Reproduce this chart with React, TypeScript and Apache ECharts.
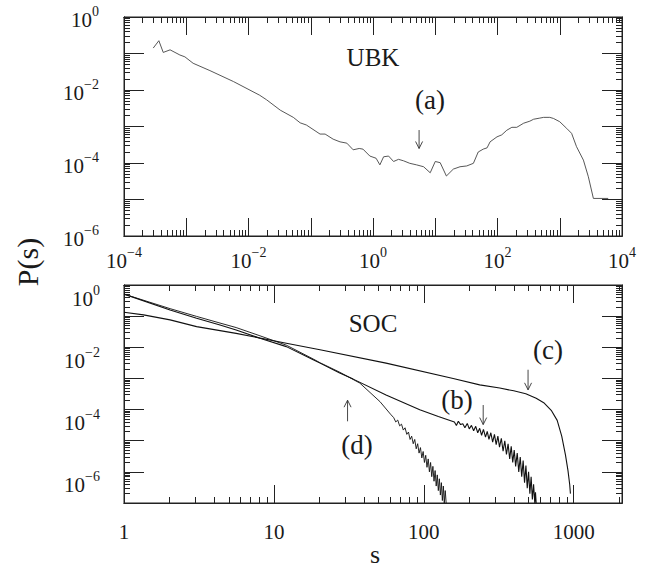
import React, { useEffect, useRef } from "react";
import * as echarts from "echarts";

// ---------- Panel (a): UBK ----------
const ubkS = [2.95e-4, 3.63e-4, 4.27e-4, 5.5e-4, 7.9e-4, 9.5e-4, 1.29e-3, 2.4e-3, 5.75e-3, 0.0151, 0.0195, 0.0324, 0.0525, 0.0676, 0.085, 0.141, 0.17, 0.229, 0.295, 0.38, 0.48, 0.6, 0.69, 0.89, 1.12, 1.29, 1.48, 1.78, 2.14, 2.57, 3.09, 3.9, 5.0, 6.5, 8.3, 10.0, 12.0, 15.1, 19.5, 25, 32, 41, 49, 59, 68, 76, 98, 117, 141, 170, 204, 263, 331, 380, 479, 550, 692, 794, 1000, 1290, 1550, 1860, 2400, 2880, 3470, 6000];
const ubkP = [0.141, 0.224, 0.107, 0.126, 0.091, 0.081, 0.054, 0.034, 0.017, 7.2e-3, 5.4e-3, 2.8e-3, 1.78e-3, 1.26e-3, 1.1e-3, 6.2e-4, 6.2e-4, 4.5e-4, 3.8e-4, 3.5e-4, 2.3e-4, 2.5e-4, 2.4e-4, 1.55e-4, 1.35e-4, 8.9e-5, 1.48e-4, 1.55e-4, 1.1e-4, 1.26e-4, 1.15e-4, 9.8e-5, 8.9e-5, 7.9e-5, 5.4e-5, 1.1e-4, 1.02e-4, 4.4e-5, 6.8e-5, 7.9e-5, 8.3e-5, 9.8e-5, 2.0e-4, 2.4e-4, 2.6e-4, 3.8e-4, 5.2e-4, 5.9e-4, 7.9e-4, 9.5e-4, 9.5e-4, 1.23e-3, 1.4e-3, 1.58e-3, 1.7e-3, 1.78e-3, 1.78e-3, 1.66e-3, 1.35e-3, 8.9e-4, 6.5e-4, 2.8e-4, 1.2e-4, 4.2e-5, 1.07e-5, 1.07e-5];

// ---------- Panel SOC: curve (c) ----------
const socCS = [1, 1.35, 2.03, 3.05, 5.6, 12.1, 20.3, 56, 157, 236, 321, 398, 479, 562, 631, 708, 776, 832, 881, 916, 940, 951];
const socCP = [0.133, 0.11, 0.076, 0.046, 0.028, 0.0135, 8.3e-3, 3.1e-3, 1.0e-3, 6.2e-4, 4.9e-4, 4.0e-4, 3.2e-4, 2.3e-4, 1.66e-4, 9.5e-5, 4.5e-5, 1.4e-5, 3.5e-6, 1.1e-6, 4.0e-7, 2.0e-7];

// ---------- curve (b) ----------
const socBS = [1, 2.03, 3.05, 4.37, 5.6, 8.07, 12.1, 18.3, 20.3, 27.5, 33.8, 56, 94, 125, 160, 165, 170, 176, 182, 188, 195, 201, 208, 215, 222, 229, 236, 243, 250, 258, 265, 272, 280, 288, 296, 304, 312, 320, 329, 338, 347, 356, 365, 374, 383, 392, 401, 410, 420, 430, 440, 450, 460, 470, 480, 490, 500, 510, 520, 530, 540, 550, 556, 562];
const socBP = [0.51, 0.158, 0.085, 0.052, 0.036, 0.0195, 0.0105, 4.0e-3, 3.1e-3, 1.5e-3, 9.5e-4, 2.95e-4, 9.8e-5, 6.0e-5, 4.0e-5, 3.1e-5, 4.2e-5, 3.3e-5, 3.5e-5, 2.6e-5, 3.6e-5, 2.4e-5, 3.1e-5, 2.1e-5, 2.9e-5, 1.8e-5, 2.5e-5, 1.5e-5, 2.3e-5, 1.3e-5, 2.0e-5, 1.1e-5, 1.8e-5, 9.0e-6, 1.6e-5, 7.5e-6, 1.4e-5, 6.2e-6, 1.2e-5, 4.6e-6, 1.0e-5, 3.6e-6, 8.0e-6, 2.6e-6, 6.6e-6, 2.0e-6, 5.0e-6, 1.5e-6, 4.0e-6, 1.0e-6, 3.0e-6, 7.0e-7, 2.3e-6, 4.5e-7, 1.6e-6, 3.0e-7, 1.0e-6, 2.0e-7, 7.0e-7, 1.3e-7, 4.0e-7, 1.0e-7, 2.2e-7, 1.0e-7];

// ---------- curve (d) ----------
const socDS = [1, 2.03, 3.05, 4.37, 5.6, 8.07, 12.1, 18.3, 20.3, 27.5, 37.4, 51, 60, 63, 65, 67, 69, 71, 73, 75, 77, 79, 81, 83, 85, 87, 89, 91, 93, 95, 97, 99, 101, 103, 105, 107, 109, 111, 113, 115, 117, 119, 121, 123, 125, 127, 129, 131, 133, 135, 137, 139, 141];
const socDP = [0.51, 0.174, 0.098, 0.06, 0.043, 0.0234, 0.0117, 4.2e-3, 3.2e-3, 1.58e-3, 7.1e-4, 1.8e-4, 7.1e-5, 5.5e-5, 4.0e-5, 4.6e-5, 3.0e-5, 3.4e-5, 2.2e-5, 2.6e-5, 1.6e-5, 1.9e-5, 1.1e-5, 1.4e-5, 8.0e-6, 1.1e-5, 5.5e-6, 8.0e-6, 4.0e-6, 6.0e-6, 2.8e-6, 4.5e-6, 2.0e-6, 3.4e-6, 1.4e-6, 2.6e-6, 1.0e-6, 2.0e-6, 7.0e-7, 1.5e-6, 5.0e-7, 1.1e-6, 3.5e-7, 8.0e-7, 2.5e-7, 6.0e-7, 1.8e-7, 4.5e-7, 1.2e-7, 3.5e-7, 1.0e-7, 2.5e-7, 1.0e-7];

// ---------- arrows: [x, tail y, tip y] ----------
const ubkArrows = [[5.5, 8.0e-4, 2.5e-4]];
const socArrows = [
  [31, 4.2e-5, 2.0e-4],
  [249, 1.4e-4, 3.3e-5],
  [496, 1.9e-3, 4.3e-4],
];

// ---------- tick labels ----------
const ubkXLabelExps = [-4, -2, 0, 2, 4];
const ubkYLabelExps = [0, -2, -4, -6];
const socXLabels = [1, 10, 100, 1000];
const socYLabelExps = [0, -2, -4, -6];

// axis ranges
const ubkXRange = [1e-4, 1e4];
const ubkYRange = [1e-6, 1];
const socXRange = [1, 2100];
const socYRange = [1e-7, 1];

const FONT = "Liberation Serif";

const zip = (a: number[], b: number[]) => a.map((v, i) => [v, b[i]]);

const sup = (e: number) => `{b|10}{s|${e < 0 ? "\u2212" + -e : String(e)}}`;
const expFormatter = (allowed: number[]) => (v: number) => {
  const e = Math.log10(v);
  const r = Math.round(e);
  if (Math.abs(e - r) > 1e-6 || !allowed.includes(r)) return "";
  return sup(r);
};
const plainFormatter = (allowed: number[]) => (v: number) => {
  const hit = allowed.find((a) => Math.abs(Math.log10(v) - Math.log10(a)) < 1e-6);
  return hit === undefined ? "" : `{b|${hit}}`;
};

const rich = {
  b: { fontFamily: FONT, fontSize: 21, color: "#1a1a1a", lineHeight: 26, verticalAlign: "bottom" },
  s: { fontFamily: FONT, fontSize: 14, color: "#1a1a1a", lineHeight: 14, verticalAlign: "top" },
};

// decade (major) and 2..9 (minor) positions inside a range
function logTicks(range: number[], major: boolean) {
  const out: number[] = [];
  const loExp = Math.round(Math.log10(range[0]));
  for (let d = loExp; Math.pow(10, d) <= range[1] * 1.0001; d++) {
    for (let k = major ? 1 : 2; k <= (major ? 1 : 9); k++) {
      const v = k * Math.pow(10, d);
      if (v <= range[1] * 1.0001) out.push(v);
    }
  }
  return out;
}

// 4 log axes per direction and grid: majors + minors on both sides
function axisSet(dir: "x" | "y", gi: number, range: number[], majLen: number, label: any) {
  const sides = dir === "x" ? ["bottom", "top"] : ["left", "right"];
  const out: any[] = [];
  for (const side of sides) {
    for (const major of [true, false]) {
      const isLabelled = side === sides[0] && major;
      out.push({
        type: "log",
        gridIndex: gi,
        position: side,
        min: range[0],
        max: range[1],
        axisLine: { show: true, onZero: false, lineStyle: { color: "#222", width: 1 } },
        splitLine: { show: false },
        axisTick: {
          show: true,
          inside: true,
          length: major ? majLen : 6,
          customValues: logTicks(range, major),
          lineStyle: { color: "#222", width: 1 },
        },
        axisLabel: isLabelled ? label : { show: false },
      });
    }
  }
  return out;
}

function arrowSeries(xi: number, yi: number, arrows: number[][]) {
  return {
    type: "custom",
    xAxisIndex: xi,
    yAxisIndex: yi,
    silent: true,
    z: 6,
    data: arrows.map((a) => [a[0], a[1], a[2]]),
    encode: { x: 0, y: 1 },
    renderItem: (_params: any, api: any) => {
      const x = api.value(0);
      const p1 = api.coord([x, api.value(1)]);
      const p2 = api.coord([x, api.value(2)]);
      const d = p2[1] > p1[1] ? 1 : -1;
      return {
        type: "group",
        children: [
          { type: "line", shape: { x1: p1[0], y1: p1[1], x2: p2[0], y2: p2[1] }, style: { stroke: "#333", lineWidth: 0.9 } },
          {
            type: "polyline",
            shape: { points: [[p2[0] - 3.5, p2[1] - d * 7], [p2[0], p2[1]], [p2[0] + 3.5, p2[1] - d * 7]] },
            style: { stroke: "#333", lineWidth: 0.9, fill: "none" },
          },
        ],
      };
    },
  };
}

const lineSeries = (xi: number, yi: number, data: number[][], width: number, color: string) => ({
  type: "line",
  xAxisIndex: xi,
  yAxisIndex: yi,
  data,
  showSymbol: false,
  symbol: "none",
  silent: true,
  lineStyle: { width, color },
  z: 3,
});

export default function App() {
  const ref = useRef<HTMLDivElement>(null);
  useEffect(() => {
    if (!ref.current) return;
    const chart = echarts.init(ref.current, null, { renderer: "svg" });
    const textStyle = (size: number) => ({ fontFamily: FONT, fontSize: size, fill: "#1a1a1a" });
    chart.setOption({
      animation: false,
      grid: [
        { left: 124, top: 17, width: 498, height: 219, show: true, borderColor: "#222", borderWidth: 1 },
        { left: 124, top: 285, width: 498, height: 218, show: true, borderColor: "#222", borderWidth: 1 },
      ],
      // xAxis 0-3: UBK, 4-7: SOC ; yAxis likewise
      xAxis: [
        ...axisSet("x", 0, ubkXRange, 18, { formatter: expFormatter(ubkXLabelExps), rich, margin: 9, showMinLabel: true, showMaxLabel: true }),
        ...axisSet("x", 1, socXRange, 18, { formatter: plainFormatter(socXLabels), rich, margin: 13, showMinLabel: true, showMaxLabel: true }),
      ],
      yAxis: [
        ...axisSet("y", 0, ubkYRange, 20, { formatter: expFormatter(ubkYLabelExps), rich, margin: 25, showMinLabel: true, showMaxLabel: true }),
        ...axisSet("y", 1, socYRange, 20, { formatter: expFormatter(socYLabelExps), rich, margin: 24, padding: [22, 0, 0, 0], showMinLabel: true, showMaxLabel: true }),
      ],
      series: [
        lineSeries(0, 0, zip(ubkS, ubkP), 0.9, "#444"),
        lineSeries(4, 4, zip(socCS, socCP), 1.1, "#111"),
        lineSeries(4, 4, zip(socBS, socBP), 1.1, "#111"),
        lineSeries(4, 4, zip(socDS, socDP), 0.9, "#111"),
        arrowSeries(0, 0, ubkArrows),
        arrowSeries(4, 4, socArrows),
      ],
      graphic: [
        { type: "text", x: 373, y: 57, style: { ...textStyle(25), text: "UBK", align: "center", verticalAlign: "middle" } },
        { type: "text", x: 430, y: 100, style: { ...textStyle(27), text: "(a)", align: "center", verticalAlign: "middle" } },
        { type: "text", x: 373, y: 323, style: { ...textStyle(25), text: "SOC", align: "center", verticalAlign: "middle" } },
        { type: "text", x: 457, y: 400, style: { ...textStyle(27), text: "(b)", align: "center", verticalAlign: "middle" } },
        { type: "text", x: 548, y: 350, style: { ...textStyle(27), text: "(c)", align: "center", verticalAlign: "middle" } },
        { type: "text", x: 357, y: 445, style: { ...textStyle(27), text: "(d)", align: "center", verticalAlign: "middle" } },
        { type: "text", x: 27, y: 262, rotation: Math.PI / 2, style: { ...textStyle(30), text: "P(s)", align: "center", verticalAlign: "middle" } },
        { type: "text", x: 375, y: 567, style: { ...textStyle(26), text: "s", align: "center", verticalAlign: "bottom" } },
      ],
    });
    return () => chart.dispose();
  }, []);
  return <div ref={ref} style={{ position: "absolute", left: 0, top: 0, width: 655, height: 569, background: "#fff" }} />;
}
